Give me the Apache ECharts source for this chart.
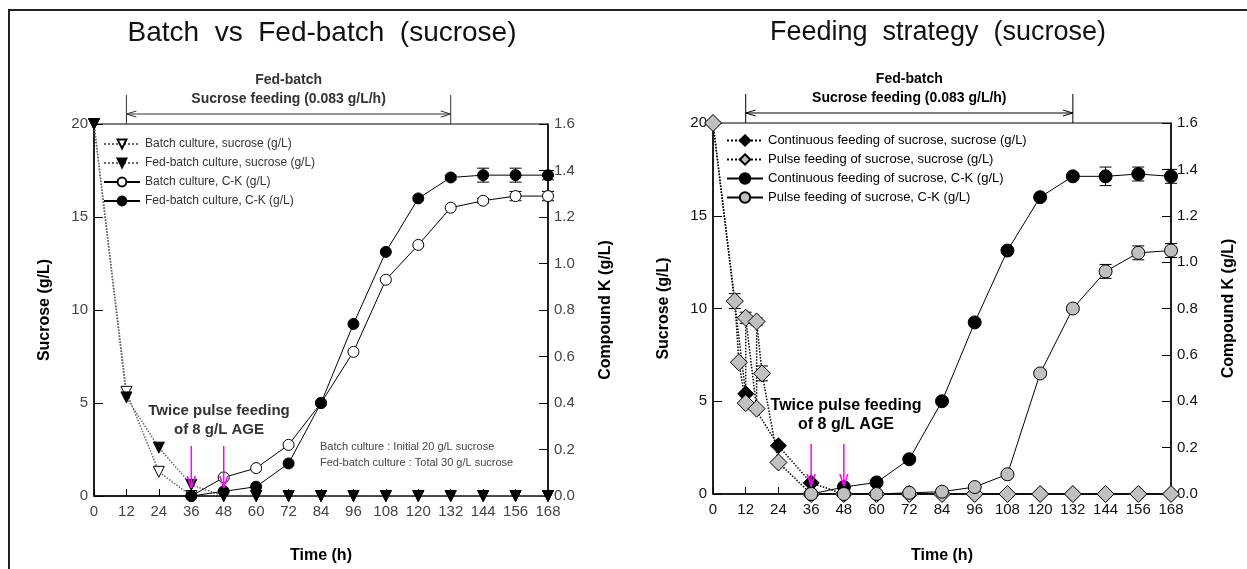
<!DOCTYPE html>
<html>
<head>
<meta charset="utf-8">
<script src="https://cdn.jsdelivr.net/npm/echarts@6/dist/echarts.min.js"></script>
<style>
    html, body { margin: 0; padding: 0; background: #fff; }
    #main { width: 1247px; height: 569px; }
</style>
</head>
<body>
<div id="main"></div>
<script>
    // sampling times (h)
    var hours = [0, 12, 24, 36, 48, 60, 72, 84, 96, 108, 120, 132, 144, 156, 168];

    // left: batch vs fed-batch
    var batchSucrose = [20, 5.6, 1.3, 0, 0, 0, 0, 0, 0, 0, 0, 0, 0, 0, 0];
    var fedSucrose = [20, 5.3, 2.6, 0.6, 0, 0, 0, 0, 0, 0, 0, 0, 0, 0, 0];
    var batchCK = [null, null, null, 0, 0.08, 0.12, 0.22, 0.40, 0.62, 0.93, 1.08, 1.24, 1.27, 1.29, 1.29];
    var fedCK = [null, null, null, 0, 0.02, 0.04, 0.14, 0.40, 0.74, 1.05, 1.28, 1.37, 1.38, 1.38, 1.38];
    var batchCKErr = [0, 0, 0, 0, 0, 0, 0, 0, 0, 0, 0, 0, 0.01, 0.02, 0.02];
    var fedCKErr = [0, 0, 0, 0, 0, 0, 0, 0, 0, 0, 0, 0.01, 0.03, 0.03, 0.02];

    // right: feeding strategy
    var contSucrose = [20, 5.4, 2.6, 0.6, 0, 0, 0, 0, 0, 0, 0, 0, 0, 0, 0];
    var pulseTime = [0, 8, 9.5, 12, 12, 16, 16, 18, 24, 36, 48, 60, 72, 84, 96, 108, 120, 132, 144, 156, 168];
    var pulseSucrose = [20, 10.4, 7.1, 4.9, 9.5, 4.6, 9.3, 6.5, 1.7, 0, 0, 0, 0, 0, 0, 0, 0, 0, 0, 0, 0];
    var pulseSucroseErr = [0, 0.4, 0, 0, 0.3, 0, 0.2, 0.4, 0, 0, 0, 0, 0, 0, 0, 0, 0, 0, 0, 0, 0];
    var contCK = [null, null, null, 0, 0.03, 0.05, 0.15, 0.40, 0.74, 1.05, 1.28, 1.37, 1.37, 1.38, 1.37];
    var pulseCK = [null, null, null, 0, 0, 0, 0.005, 0.01, 0.03, 0.085, 0.52, 0.80, 0.96, 1.04, 1.05];
    var contCKErr = [0, 0, 0, 0, 0, 0, 0, 0, 0, 0, 0, 0.01, 0.04, 0.03, 0.03];
    var pulseCKErr = [0, 0, 0, 0, 0, 0, 0, 0, 0.01, 0, 0.01, 0, 0.03, 0.03, 0.03];

    // annotations
    var feedPeriod = [12, 132];
    var ageFeedTimes = [36, 48];

    var xTicks = [0, 168, 12];
    var sucroseTicks = [0, 20, 5];
    var ckTicks = [0, 1.6, 0.2];

    var leftNames = ['Batch culture, sucrose (g/L)', 'Fed-batch culture, sucrose (g/L)',
        'Batch culture, C-K (g/L)', 'Fed-batch culture, C-K (g/L)'];
    var rightNames = ['Continuous feeding of sucrose, sucrose (g/L)', 'Pulse feeding of sucrose, sucrose (g/L)',
        'Continuous feeding of sucrose, C-K (g/L)', 'Pulse feeding of sucrose, C-K (g/L)'];

    function pairs(xs, ys) {
        var out = [];
        for (var i = 0; i < xs.length; i++) {
            if (ys[i] !== null) out.push([xs[i], ys[i]]);
        }
        return out;
    }

    function errData(xs, ys, es) {
        var out = [];
        for (var i = 0; i < xs.length; i++) {
            if (ys[i] !== null && es[i] > 0) out.push([xs[i], ys[i], es[i]]);
        }
        return out;
    }

    var FONT = '"Liberation Sans", Arial, sans-serif';

    function errRender(params, api) {
        var x = api.value(0), y = api.value(1), e = api.value(2);
        var t = api.coord([x, y + e]), b = api.coord([x, y - e]);
        var st = { stroke: '#000', lineWidth: 1 };
        return {
            type: 'group',
            children: [
                { type: 'line', shape: { x1: t[0], y1: t[1], x2: b[0], y2: b[1] }, style: st },
                { type: 'line', shape: { x1: t[0] - 6, y1: t[1], x2: t[0] + 6, y2: t[1] }, style: st },
                { type: 'line', shape: { x1: b[0] - 6, y1: b[1], x2: b[0] + 6, y2: b[1] }, style: st }
            ]
        };
    }

    // magenta arrows for AGE pulses
    function arrowRender(params, api) {
        var p = api.coord([api.value(0), 0]);
        var top = p[1] - 50, tip = p[1] - 8;
        var st = { stroke: '#ff00ff', lineWidth: 1.5 };
        return {
            type: 'group',
            children: [
                { type: 'line', shape: { x1: p[0], y1: top, x2: p[0], y2: tip }, style: st },
                { type: 'line', shape: { x1: p[0] - 4, y1: tip - 12, x2: p[0], y2: tip }, style: st },
                { type: 'line', shape: { x1: p[0] + 4, y1: tip - 12, x2: p[0], y2: tip }, style: st }
            ]
        };
    }

    function bracketRender(color) {
        return function(params, api) {
            var a = api.coord([api.value(0), 20]);
            var b = api.coord([api.value(1), 20]);
            var ya = a[1] - 10, yt = a[1] - 29;
            var st = { stroke: color, lineWidth: 1 };
            return {
                type: 'group',
                children: [
                    { type: 'line', shape: { x1: a[0], y1: a[1], x2: a[0], y2: yt }, style: st },
                    { type: 'line', shape: { x1: b[0], y1: b[1], x2: b[0], y2: yt }, style: st },
                    { type: 'line', shape: { x1: a[0], y1: ya, x2: b[0], y2: ya }, style: st },
                    { type: 'line', shape: { x1: a[0], y1: ya, x2: a[0] + 10, y2: ya - 3 }, style: st },
                    { type: 'line', shape: { x1: a[0], y1: ya, x2: a[0] + 10, y2: ya + 3 }, style: st },
                    { type: 'line', shape: { x1: b[0], y1: ya, x2: b[0] - 10, y2: ya - 3 }, style: st },
                    { type: 'line', shape: { x1: b[0], y1: ya, x2: b[0] - 10, y2: ya + 3 }, style: st },
                    { type: 'text', style: { x: (a[0] + b[0]) / 2, y: a[1] - 44, text: 'Fed-batch',
                        textAlign: 'center', textVerticalAlign: 'middle', font: 'bold 14px ' + FONT, fill: color } },
                    { type: 'text', style: { x: (a[0] + b[0]) / 2, y: a[1] - 25, text: 'Sucrose feeding (0.083 g/L/h)',
                        textAlign: 'center', textVerticalAlign: 'middle', font: 'bold 14px ' + FONT, fill: color } }
                ]
            };
        };
    }

    function makeX(gi, lc) {
        return {
            gridIndex: gi, type: 'value', min: xTicks[0], max: xTicks[1], interval: xTicks[2],
            name: 'Time (h)', nameLocation: 'middle', nameGap: gi ? 54 : 52,
            nameTextStyle: { fontFamily: FONT, fontWeight: 'bold', fontSize: 16, color: '#000' },
            axisLine: { onZero: false, lineStyle: { color: '#000', width: 1.5 } },
            axisTick: { inside: true, length: 7, lineStyle: { color: '#000' } },
            axisLabel: { fontFamily: FONT, fontSize: 15, color: lc, margin: 8 },
            splitLine: { show: false }
        };
    }

    function makeY(gi, right, lc) {
        var t = right ? ckTicks : sucroseTicks;
        return {
            gridIndex: gi, type: 'value', min: t[0], max: t[1], interval: t[2],
            position: right ? 'right' : 'left',
            name: right ? 'Compound K (g/L)' : 'Sucrose (g/L)', nameLocation: 'middle',
            nameGap: right ? 50 : 41,
            nameTextStyle: { fontFamily: FONT, fontWeight: 'bold', fontSize: 16, color: '#000' },
            axisLine: { show: true, lineStyle: { color: '#000', width: 1.5 } },
            axisTick: { inside: true, length: 9, lineStyle: { color: '#000' } },
            axisLabel: {
                fontFamily: FONT, fontSize: 15, color: lc, margin: 6,
                formatter: right ? function(v) { return v.toFixed(1); } : '{value}'
            },
            splitLine: { show: false }
        };
    }

    var myChart = echarts.init(document.getElementById('main'));

    var option = {
        animation: false,
        grid: [
            { left: 94, top: 124, width: 454, height: 373, show: true, borderColor: '#000', borderWidth: 1 },
            { left: 713, top: 123, width: 458, height: 375, show: true, borderColor: '#000', borderWidth: 1 }
        ],
        xAxis: [makeX(0, '#444'), makeX(1, '#111')],
        yAxis: [makeY(0, false, '#444'), makeY(0, true, '#444'), makeY(1, false, '#111'), makeY(1, true, '#111')],
        legend: [{
            data: leftNames, orient: 'vertical', left: 98, top: 133,
            itemWidth: 36, itemHeight: 11, itemGap: 7,
            textStyle: { fontFamily: FONT, fontSize: 12, color: '#333' }
        }, {
            data: rightNames, orient: 'vertical', left: 721, top: 129,
            itemWidth: 36, itemHeight: 13, itemGap: 6,
            textStyle: { fontFamily: FONT, fontSize: 13, color: '#000' }
        }],
        series: [
            // ---- left panel
            {
                name: leftNames[0], type: 'line', xAxisIndex: 0, yAxisIndex: 0,
                data: pairs(hours, batchSucrose), symbol: 'triangle', symbolRotate: 180, symbolSize: 11,
                itemStyle: { color: '#fff', borderColor: '#000', borderWidth: 1 },
                lineStyle: { color: '#666', width: 1.5, type: 'dotted' }
            },
            {
                name: leftNames[1], type: 'line', xAxisIndex: 0, yAxisIndex: 0,
                data: pairs(hours, fedSucrose), symbol: 'triangle', symbolRotate: 180, symbolSize: 11,
                itemStyle: { color: '#000', borderColor: '#000', borderWidth: 1 },
                lineStyle: { color: '#666', width: 1.5, type: 'dotted' }
            },
            {
                name: leftNames[2], type: 'line', xAxisIndex: 0, yAxisIndex: 1,
                data: pairs(hours, batchCK), symbol: 'circle', symbolSize: 11,
                itemStyle: { color: '#fff', borderColor: '#000', borderWidth: 1 },
                lineStyle: { color: '#000', width: 1 }
            },
            {
                name: leftNames[3], type: 'line', xAxisIndex: 0, yAxisIndex: 1,
                data: pairs(hours, fedCK), symbol: 'circle', symbolSize: 11,
                itemStyle: { color: '#000', borderColor: '#000', borderWidth: 1 },
                lineStyle: { color: '#000', width: 1 }
            },
            {
                type: 'custom', xAxisIndex: 0, yAxisIndex: 1, renderItem: errRender,
                data: errData(hours, batchCK, batchCKErr).concat(errData(hours, fedCK, fedCKErr)), z: 1
            },
            {
                type: 'custom', xAxisIndex: 0, yAxisIndex: 0, renderItem: arrowRender, clip: false,
                data: ageFeedTimes.map(function(t) { return [t, 0]; }), z: 5
            },
            {
                type: 'custom', xAxisIndex: 0, yAxisIndex: 0, renderItem: bracketRender('#333'), clip: false,
                data: [feedPeriod]
            },
            // ---- right panel
            {
                name: rightNames[0], type: 'line', xAxisIndex: 1, yAxisIndex: 2,
                data: pairs(hours, contSucrose), symbol: 'diamond', symbolSize: 16,
                itemStyle: { color: '#000', borderColor: '#000', borderWidth: 1 },
                lineStyle: { color: '#000', width: 1.5, type: 'dotted' }
            },
            {
                name: rightNames[1], type: 'line', xAxisIndex: 1, yAxisIndex: 2,
                data: pairs(pulseTime, pulseSucrose), symbol: 'diamond', symbolSize: 17,
                itemStyle: { color: '#c0c0c0', borderColor: '#000', borderWidth: 1 },
                lineStyle: { color: '#000', width: 1.5, type: 'dotted' }
            },
            {
                name: rightNames[2], type: 'line', xAxisIndex: 1, yAxisIndex: 3,
                data: pairs(hours, contCK), symbol: 'circle', symbolSize: 13,
                itemStyle: { color: '#000', borderColor: '#000', borderWidth: 1 },
                lineStyle: { color: '#000', width: 1 }
            },
            {
                name: rightNames[3], type: 'line', xAxisIndex: 1, yAxisIndex: 3,
                data: pairs(hours, pulseCK), symbol: 'circle', symbolSize: 13,
                itemStyle: { color: '#c0c0c0', borderColor: '#000', borderWidth: 1 },
                lineStyle: { color: '#000', width: 1 }
            },
            {
                type: 'custom', xAxisIndex: 1, yAxisIndex: 2, renderItem: errRender,
                data: errData(pulseTime, pulseSucrose, pulseSucroseErr), z: 1
            },
            {
                type: 'custom', xAxisIndex: 1, yAxisIndex: 3, renderItem: errRender,
                data: errData(hours, contCK, contCKErr).concat(errData(hours, pulseCK, pulseCKErr)), z: 1
            },
            {
                type: 'custom', xAxisIndex: 1, yAxisIndex: 2, renderItem: arrowRender, clip: false,
                data: ageFeedTimes.map(function(t) { return [t, 0]; }), z: 5
            },
            {
                type: 'custom', xAxisIndex: 1, yAxisIndex: 2, renderItem: bracketRender('#000'), clip: false,
                data: [feedPeriod]
            }
        ],
        graphic: [
            // outer frame
            { type: 'line', shape: { x1: 8, y1: 10, x2: 1247, y2: 10 }, style: { stroke: '#222', lineWidth: 2 } },
            { type: 'line', shape: { x1: 9, y1: 10, x2: 9, y2: 569 }, style: { stroke: '#222', lineWidth: 2 } },
            // titles
            { type: 'text', x: 322, y: 33, style: { text: 'Batch  vs  Fed-batch  (sucrose)', textAlign: 'center',
                textVerticalAlign: 'middle', font: '28px ' + FONT, fill: '#111' } },
            { type: 'text', x: 938, y: 33, style: { text: 'Feeding  strategy  (sucrose)', textAlign: 'center',
                textVerticalAlign: 'middle', font: '27px ' + FONT, fill: '#111' } },
            // pulse feeding notes
            { type: 'text', x: 219, y: 420, style: { text: 'Twice pulse feeding\nof 8 g/L AGE', textAlign: 'center',
                textVerticalAlign: 'middle', font: 'bold 15px ' + FONT, fill: '#333', lineHeight: 19 } },
            { type: 'text', x: 846, y: 415, style: { text: 'Twice pulse feeding\nof 8 g/L AGE', textAlign: 'center',
                textVerticalAlign: 'middle', font: 'bold 16px ' + FONT, fill: '#000', lineHeight: 19 } },
            { type: 'text', x: 320, y: 447, style: { text: 'Batch culture : Initial 20 g/L sucrose',
                textVerticalAlign: 'middle', font: '11px ' + FONT, fill: '#444' } },
            { type: 'text', x: 320, y: 463, style: { text: 'Fed-batch culture : Total 30 g/L sucrose',
                textVerticalAlign: 'middle', font: '11px ' + FONT, fill: '#444' } }
        ]
    };

    myChart.setOption(option);
</script>
</body>
</html>
